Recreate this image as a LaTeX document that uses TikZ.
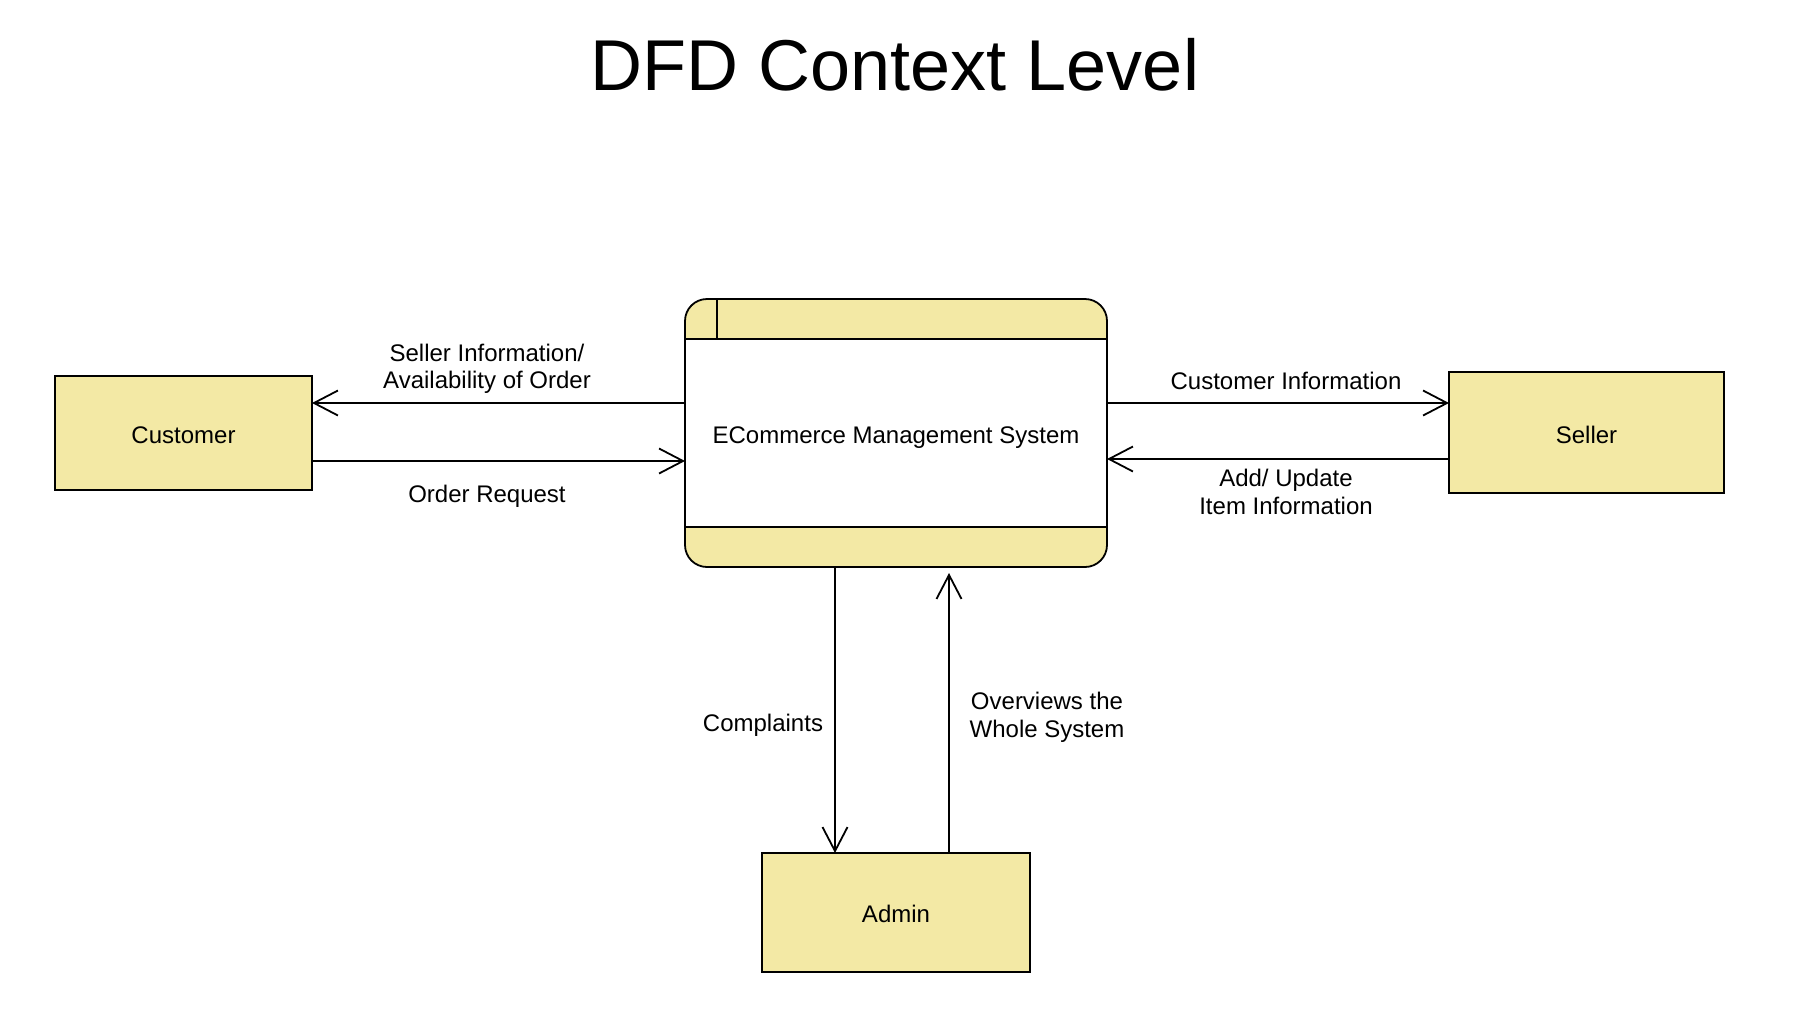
\documentclass[tikz,border=0pt]{standalone}
\usepackage{fontspec}
\setmainfont{Liberation Sans}
\usetikzlibrary{arrows.meta,backgrounds,calc}
\definecolor{dfdyellow}{HTML}{F3E9A5}
\begin{document}
\begin{tikzpicture}[x=1pt,y=-1pt,
  ent/.style={draw, fill=dfdyellow, line width=1.8pt, inner sep=0pt, outer sep=0pt,
    font=\fontsize{24}{27.5}\selectfont, text height=21pt, text depth=0pt},
  lbl/.style={font=\fontsize{24}{27.5}\selectfont, align=center, inner sep=0pt},
  flow/.style={line width=1.8pt, -{Straight Barb[length=24pt,width=25pt,line width=1.8pt]}},
  edge/.style={line width=1.8pt}]
\useasboundingbox (0,0) rectangle (1807,1018);

\node[font=\fontsize{72}{80}\selectfont, anchor=base, inner sep=0pt] (title) at (895,90) {DFD Context Level};

\node[ent, minimum width=257pt, minimum height=114pt] (cust) at (183.5,433) {Customer};
\node[ent, minimum width=275pt, minimum height=121pt] (seller) at (1586.5,432.5) {Seller};
\node[ent, minimum width=268pt, minimum height=119pt, text height=19.5pt] (admin) at (896,912.5) {Admin};

\node[inner sep=0pt, outer sep=0pt, minimum width=422pt, minimum height=268pt,
  font=\fontsize{24}{27.5}\selectfont, text height=20pt, text depth=0pt] (proc) at (896,433) {ECommerce Management System};

\begin{scope}[on background layer]
  \fill[white] (0,0) rectangle (1807,1018);
  \fill[dfdyellow, rounded corners=22pt] (proc.north west) rectangle (proc.south east);
  \fill[white] ([yshift=-40pt]proc.north west) rectangle ([yshift=40pt]proc.south east);
  \draw[edge] ([yshift=-40pt]proc.north west) -- ([yshift=-40pt]proc.north east);
  \draw[edge] ([yshift=40pt]proc.south west) -- ([yshift=40pt]proc.south east);
  \draw[edge] ([xshift=32pt]proc.north west) -- ([xshift=32pt,yshift=-40pt]proc.north west);
  \draw[edge, rounded corners=22pt] (proc.north west) rectangle (proc.south east);
\end{scope}

\draw[flow] (proc.west |- 0,403) -- (cust.east |- 0,403);
\draw[flow] (cust.east |- 0,461) -- (proc.west |- 0,461);
\draw[flow] (proc.east |- 0,403) -- (seller.west |- 0,403);
\draw[flow] (seller.west |- 0,459) -- (proc.east |- 0,459);
\draw[flow] (proc.south -| 835,0) -- (admin.north -| 835,0);
\draw[flow] (admin.north -| 949,0) -- ($(proc.south -| 949,0)+(0,6)$);

\node[lbl] (l1) at (487,369) {Seller Information/\\Availability of Order};
\node[lbl, anchor=base] (l2) at (487,502) {Order Request};
\node[lbl, anchor=base] (l3) at (1286,389) {Customer Information};
\node[lbl] (l4) at (1286,492) {Add/ Update\\Item Information};
\node[lbl, anchor=base] (l5) at (763,731) {Complaints};
\node[lbl] (l6) at (1047,717.5) {Overviews the\\Whole System};
\end{tikzpicture}
\end{document}
